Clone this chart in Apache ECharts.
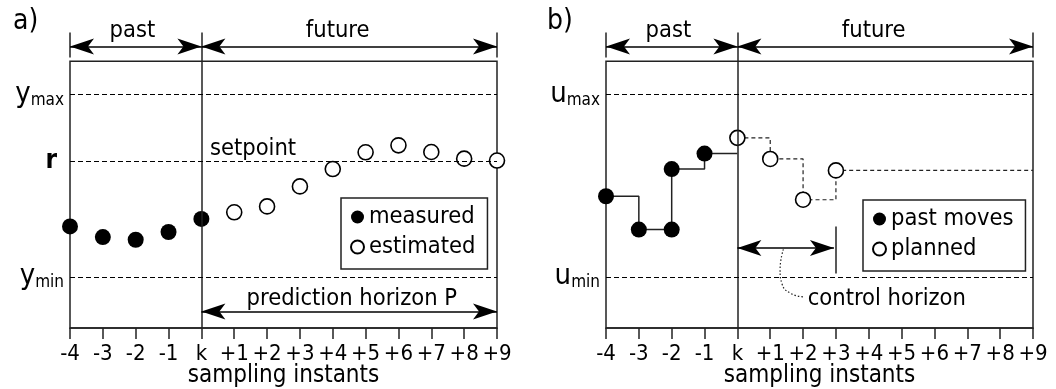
<!DOCTYPE html>
<html>
<head>
<meta charset="utf-8">
<script src="https://cdn.jsdelivr.net/npm/echarts@6/dist/echarts.min.js"></script>
<style>
  html, body { margin: 0; background: #fff; }
  #chart { width: 1056px; height: 389px; }
</style>
</head>
<body>
<div id="chart"></div>
<script>
// sampling instants, k = 0
var tickLabels = ['-4', '-3', '-2', '-1', 'k', '+1', '+2', '+3', '+4', '+5', '+6', '+7', '+8', '+9'];

// a) output
var measuredX = [-4, -3, -2, -1, 0];
var measuredY = [38.1, 34.1, 33.1, 36.0, 40.9];
var estimatedX = [1, 2, 3, 4, 5, 6, 7, 8, 9];
var estimatedY = [43.4, 45.6, 53.1, 59.6, 65.9, 68.5, 66.0, 63.5, 62.8];
var yLevelValues = [19, 62.5, 87.5];
var yLevelLabels = ['{b|y}{s|min}', '{r|r}', '{b|y}{s|max}'];

// b) input moves
var pastMovesX = [-4, -3, -2, -2, -1];
var pastMovesY = [49.4, 36.9, 36.9, 59.6, 65.4];
var pastPathX = [-4, -3, -2, -2, -1, 0];
var pastPathY = [49.4, 36.9, 36.9, 59.6, 65.4, 65.4];
var plannedX = [0, 1, 2, 3];
var plannedY = [71.3, 63.4, 48.1, 59.1];
var plannedPathX = [0, 1, 2, 3, 9];
var plannedPathY = [71.3, 63.4, 48.1, 59.1, 59.1];
var uLevelValues = [19, 87.5];
var uLevelLabels = ['{b|u}{s|min}', '{b|u}{s|max}'];

// horizons and text notes (x in instants, y in plot units, box is 0..100)
var spanLevel = 105.6;
var pastSpan = [-4, 0];
var futureSpan = [0, 9];
var predictionSpan = [0, 9, 6.2];
var controlSpan = [0, 2.94, 30];
var controlTick = [3, 20.4, 38.1];
var leaderX = [1.4, 1.3, 1.36, 1.62, 2.0];
var leaderY = [29.5, 22, 16.5, 13, 11.7];
var notesA = [['past', -2.1, 111.4, 'c'], ['future', 4.15, 111.4, 'c'], ['setpoint', 0.26, 67.2, 'l'], ['prediction horizon P', 4.58, 11.0, 'c']];
var notesB = [['past', -2.1, 111.4, 'c'], ['future', 4.15, 111.4, 'c'], ['control horizon', 2.14, 11.0, 'l']];

var FONT = "'DejaVu Sans Condensed', 'DejaVu Sans', sans-serif";
var INK = '#000';
var EDGE = '#222';
var TXT = 23.5;

function zip(xs, ys) {
  return xs.map(function (x, i) { return [x, ys[i]]; });
}

function seg(x1, y1, x2, y2) {
  return [{ coord: [x1, y1] }, { coord: [x2, y2] }];
}

function noteData(notes) {
  return notes.map(function (n) {
    return {
      value: [n[1], n[2]],
      label: {
        formatter: n[0],
        position: n[3] === 'c' ? 'inside' : 'right',
        distance: 0
      }
    };
  });
}

function xAxisFor(gi) {
  return {
    type: 'value', gridIndex: gi, min: -4, max: 9, interval: 1,
    name: 'sampling instants', nameLocation: 'middle', nameGap: 36, nameMoveOverlap: false,
    nameTextStyle: { fontFamily: FONT, fontSize: 24, color: INK, verticalAlign: 'top' },
    axisLine: { lineStyle: { color: EDGE, width: 1.5 } },
    axisTick: { length: 11, lineStyle: { color: EDGE, width: 1.5 } },
    axisLabel: {
      margin: 15, fontFamily: FONT, fontSize: 22, color: INK,
      formatter: function (v) { return tickLabels[v + 4]; }
    },
    splitLine: { show: false }
  };
}

function yAxisFor(gi, values, labels) {
  return {
    type: 'value', gridIndex: gi, min: 0, max: 120,
    axisLine: { show: false }, axisTick: { show: false }, splitLine: { show: false },
    axisLabel: {
      margin: 6,
      customValues: values,
      formatter: function (v) { return labels[values.indexOf(v)]; },
      rich: {
        b: { fontFamily: FONT, fontSize: 29, color: INK, verticalAlign: 'bottom', lineHeight: 28 },
        s: { fontFamily: FONT, fontSize: 17, color: INK, verticalAlign: 'bottom', lineHeight: 16 },
        r: { fontFamily: FONT, fontSize: 26, fontWeight: 'bold', color: INK, padding: [0, 7, 0, 0] }
      }
    }
  };
}

// frame, divider at k, constraint lines and the horizon arrows of one panel
function frameSeries(gi, levels, extraLines, extraArrows) {
  var lines = [
    seg(0, 0, 0, 110.8),
    seg(-4, 101.4, -4, 110.8),
    seg(9, 101.4, 9, 110.8)
  ].concat(extraLines);
  var arrows = [
    seg(pastSpan[0], spanLevel, pastSpan[1], spanLevel),
    seg(futureSpan[0], spanLevel, futureSpan[1], spanLevel)
  ].concat(extraArrows);
  return [{
    type: 'line', xAxisIndex: gi, yAxisIndex: gi, data: [], silent: true,
    markArea: {
      silent: true,
      itemStyle: { color: 'rgba(0,0,0,0)', borderColor: EDGE, borderWidth: 1.5 },
      data: [[{ coord: [-4, 0] }, { coord: [9, 100] }]]
    },
    markLine: {
      silent: true, symbol: 'none', animation: false,
      label: { show: false },
      lineStyle: { color: EDGE, width: 1.5, type: 'solid' },
      data: lines
    }
  }, {
    type: 'line', xAxisIndex: gi, yAxisIndex: gi, data: [], silent: true,
    markLine: {
      silent: true, symbol: 'none', animation: false,
      label: { show: false },
      lineStyle: { color: INK, width: 1, type: [5, 3] },
      data: levels.map(function (v) { return seg(-4, v, 9, v); })
    }
  }, {
    type: 'line', xAxisIndex: gi, yAxisIndex: gi, data: [], silent: true,
    markLine: {
      silent: true, symbol: ['arrow', 'arrow'], symbolSize: [12, 24], animation: false,
      label: { show: false },
      lineStyle: { color: INK, width: 1.5, type: 'solid' },
      data: arrows
    }
  }];
}

function notesSeries(gi, notes) {
  return {
    type: 'scatter', xAxisIndex: gi, yAxisIndex: gi, symbolSize: 0, silent: true,
    itemStyle: { opacity: 1 },
    label: { show: true, fontFamily: FONT, fontSize: TXT, color: INK },
    data: noteData(notes), z: 5
  };
}

function legendFor(left, top, names) {
  return {
    orient: 'vertical', left: left, top: top, data: names,
    icon: 'circle', itemWidth: 13, itemHeight: 13, itemGap: 6,
    padding: [7, 12, 10, 9],
    borderColor: EDGE, borderWidth: 1.5, backgroundColor: '#fff',
    selectedMode: false,
    textStyle: { fontFamily: FONT, fontSize: TXT, color: INK }
  };
}

var filled = { color: INK, opacity: 1 };
var hollow = { color: '#fff', borderColor: INK, borderWidth: 1.6, opacity: 1 };

var series = []
  .concat(frameSeries(0, yLevelValues, [], [seg(predictionSpan[0], predictionSpan[2], predictionSpan[1], predictionSpan[2])]))
  .concat(frameSeries(1, uLevelValues,
    [seg(controlTick[0], controlTick[1], controlTick[0], controlTick[2])],
    [seg(controlSpan[0], controlSpan[2], controlSpan[1], controlSpan[2])]))
  .concat([
    notesSeries(0, notesA),
    notesSeries(1, notesB),
    {
      name: 'measured', type: 'scatter', xAxisIndex: 0, yAxisIndex: 0,
      symbol: 'circle', symbolSize: 16, itemStyle: filled, z: 4,
      data: zip(measuredX, measuredY)
    },
    {
      name: 'estimated', type: 'scatter', xAxisIndex: 0, yAxisIndex: 0,
      symbol: 'circle', symbolSize: 15, itemStyle: hollow, z: 4,
      data: zip(estimatedX, estimatedY)
    },
    {
      type: 'line', xAxisIndex: 1, yAxisIndex: 1, step: 'end', showSymbol: false, silent: true,
      lineStyle: { color: '#222', width: 1.5 }, z: 3,
      data: zip(pastPathX, pastPathY)
    },
    {
      type: 'line', xAxisIndex: 1, yAxisIndex: 1, step: 'end', showSymbol: false, silent: true,
      lineStyle: { color: '#222', width: 1.2, type: [4, 3] }, z: 3,
      data: zip(plannedPathX, plannedPathY)
    },
    {
      type: 'line', xAxisIndex: 1, yAxisIndex: 1, smooth: 0.5, showSymbol: false, silent: true,
      lineStyle: { color: '#222', width: 1.2, type: [1.5, 2] }, z: 3,
      data: zip(leaderX, leaderY)
    },
    {
      name: 'past moves', type: 'scatter', xAxisIndex: 1, yAxisIndex: 1,
      symbol: 'circle', symbolSize: 16, itemStyle: filled, z: 4,
      data: zip(pastMovesX, pastMovesY)
    },
    {
      name: 'planned', type: 'scatter', xAxisIndex: 1, yAxisIndex: 1,
      symbol: 'circle', symbolSize: 15, itemStyle: hollow, z: 4,
      data: zip(plannedX, plannedY)
    }
  ]);

var chart = echarts.init(document.getElementById('chart'), null, { renderer: 'canvas' });
chart.setOption({
  animation: false,
  backgroundColor: '#fff',
  title: [
    { text: 'a)', left: 8, top: 3, textStyle: { fontFamily: FONT, fontSize: 28, fontWeight: 'normal', color: INK } },
    { text: 'b)', left: 542, top: 3, textStyle: { fontFamily: FONT, fontSize: 28, fontWeight: 'normal', color: INK } }
  ],
  legend: [
    legendFor(341, 198, ['measured', 'estimated']),
    legendFor(863, 200, ['past moves', 'planned'])
  ],
  grid: [
    { left: 70, right: 559, top: 8, bottom: 61, outerBoundsMode: 'none' },
    { left: 606, right: 23, top: 8, bottom: 61, outerBoundsMode: 'none' }
  ],
  xAxis: [xAxisFor(0), xAxisFor(1)],
  yAxis: [yAxisFor(0, yLevelValues, yLevelLabels), yAxisFor(1, uLevelValues, uLevelLabels)],
  series: series
});
</script>
</body>
</html>
